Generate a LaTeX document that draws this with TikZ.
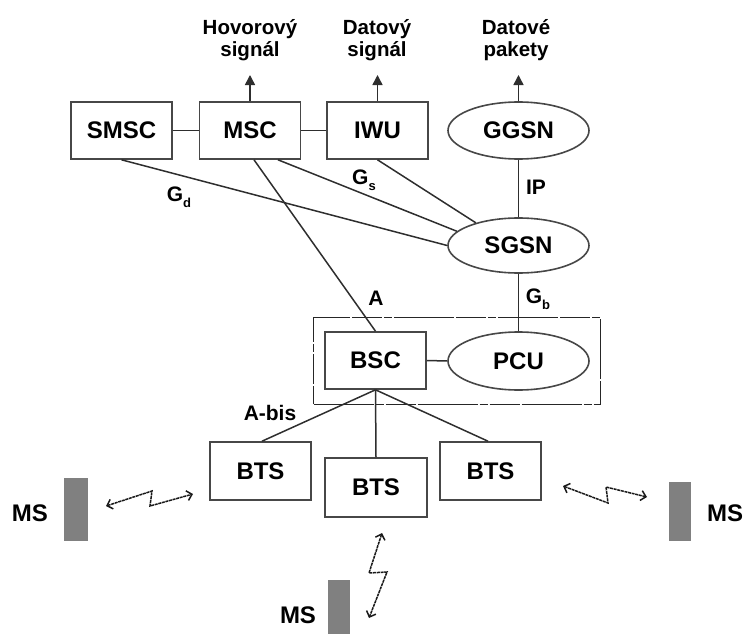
\documentclass[tikz,border=0pt]{standalone}
\usepackage{fontspec}
\setmainfont{Liberation Sans}
\usetikzlibrary{shapes.geometric, arrows.meta, fit}

\begin{document}
\begin{tikzpicture}[x=1pt, y=-1pt,
  unitbox/.style={draw=black!72, line width=1.6pt, rectangle, inner sep=0pt,
    minimum width=101pt, minimum height=57pt, font=\bfseries\fontsize{24}{24}\selectfont},
  ovalbox/.style={draw=black!72, line width=1.6pt, ellipse, inner sep=0pt,
    minimum width=141pt, minimum height=57pt, font=\bfseries\fontsize{24}{24}\selectfont},
  group/.style={draw=black!85, line width=1.4pt, rectangle,
    dash pattern=on 60pt off 2pt on 8pt off 2pt on 30pt off 2pt},
  link/.style={draw=black!82, line width=1.5pt},
  uplink/.style={link, -{Triangle[length=10pt,width=10pt]}},
  radio/.style={draw=black!90, line width=1.5pt, dash pattern=on 3pt off 0.7pt,
    {Straight Barb[length=5pt,width=10pt,line width=1.5pt]}-{Straight Barb[length=5pt,width=10pt,line width=1.5pt]}},
  handset/.style={fill=black!50, draw=none, rectangle, inner sep=0pt},
  lbl/.style={inner sep=0pt, font=\bfseries\fontsize{20.5}{22}\selectfont},
  iface/.style={inner sep=0pt, font=\bfseries\fontsize{21}{21}\selectfont},
  mslabel/.style={inner sep=0pt, font=\bfseries\fontsize{24}{24}\selectfont},
]
\useasboundingbox (0,0) rectangle (744,634);

\newcommand{\subidx}[1]{\raisebox{-6pt}{\bfseries\fontsize{13}{13}\selectfont #1}}

% core network
\node[unitbox] (smsc) at (121.5,130.5) {SMSC};
\node[unitbox] (msc)  at (250,130.5)   {MSC};
\node[unitbox] (iwu)  at (377.5,130.5) {IWU};
\node[ovalbox] (ggsn) at (518.5,130.5) {GGSN};
\node[ovalbox, minimum height=55pt] (sgsn) at (518.5,245.5) {SGSN};

% base station subsystem
\node[unitbox] (bsc) at (375.5,360.5) {BSC};
\node[ovalbox, minimum height=58pt] (pcu) at (518.5,361) {PCU};
\node[group, fit=(bsc)(pcu), inner xsep=10.5pt, inner ysep=13.5pt] (bss) {};

\node[unitbox, minimum height=58pt] (bts1) at (260.5,471) {BTS};
\node[unitbox, minimum width=102pt, minimum height=59pt] (bts2) at (376,487.5) {BTS};
\node[unitbox, minimum height=58pt] (bts3) at (490.5,471) {BTS};

% mobile stations
\node[handset, minimum width=24pt, minimum height=63pt] (msL) at (76,509.5) {};
\node[handset, minimum width=22pt, minimum height=59pt] (msR) at (680,511.5) {};
\node[handset, minimum width=22pt, minimum height=56pt] (msB) at (339,608) {};
\node[mslabel] (msLt) at (30,513) {MS};
\node[mslabel] (msRt) at (725,513) {MS};
\node[mslabel] (msBt) at (298,615) {MS};

% outgoing traffic
\coordinate (outV) at (250,75);
\coordinate (outD) at (377.5,75);
\coordinate (outP) at (518.5,75);
\draw[uplink] (msc.north) -- (outV);
\draw[uplink] (iwu.north) -- (outD);
\draw[uplink] (ggsn.north) -- (outP);
\node[lbl, align=center, anchor=base] (tV) at (250,57) {Hovorový\\signál};
\node[lbl, align=center, anchor=base] (tD) at (377,57) {Datový\\signál};
\node[lbl, align=center, anchor=base] (tP) at (516,57) {Datové\\pakety};

% interfaces
\draw[link] (smsc.east) -- (msc.west);
\draw[link] (msc.east) -- (iwu.west);
\draw[link] (ggsn.south) -- (sgsn.north);
\draw[link] (smsc.south) -- (sgsn.west);
\draw[link] ([xshift=28pt]msc.south) -- (sgsn.167);
\draw[link] (iwu.south) -- (sgsn.152);
\draw[link] ([xshift=4pt]msc.south) -- (bsc.north);
\draw[link] (sgsn.south) -- (pcu.north);
\draw[link] (bsc.east) -- (pcu.west);
\draw[link] (bsc.south) -- ([xshift=1.5pt]bts1.north);
\draw[link] (bsc.south) -- (bts2.north);
\draw[link] (bsc.south) -- ([xshift=-2.5pt]bts3.north);

\node[iface] (lGd) at (179,197) {G\subidx{d}};
\node[iface] (lGs) at (364,180) {G\subidx{s}};
\node[iface] (lGb) at (538,299) {G\subidx{b}};
\node[iface] (lIP) at (536,187) {IP};
\node[iface] (lA)  at (376,298.5) {A};
\node[iface] (lAb) at (270,413) {A-bis};

% radio links
\draw[radio] (106,506) -- (152,491) -- (150,506) -- (193,494);
\draw[radio] (563,486) -- (608,503) -- (606,487) -- (647,497);
\draw[radio] (382,533) -- (369,573) -- (387,572) -- (369,618);
\end{tikzpicture}
\end{document}
